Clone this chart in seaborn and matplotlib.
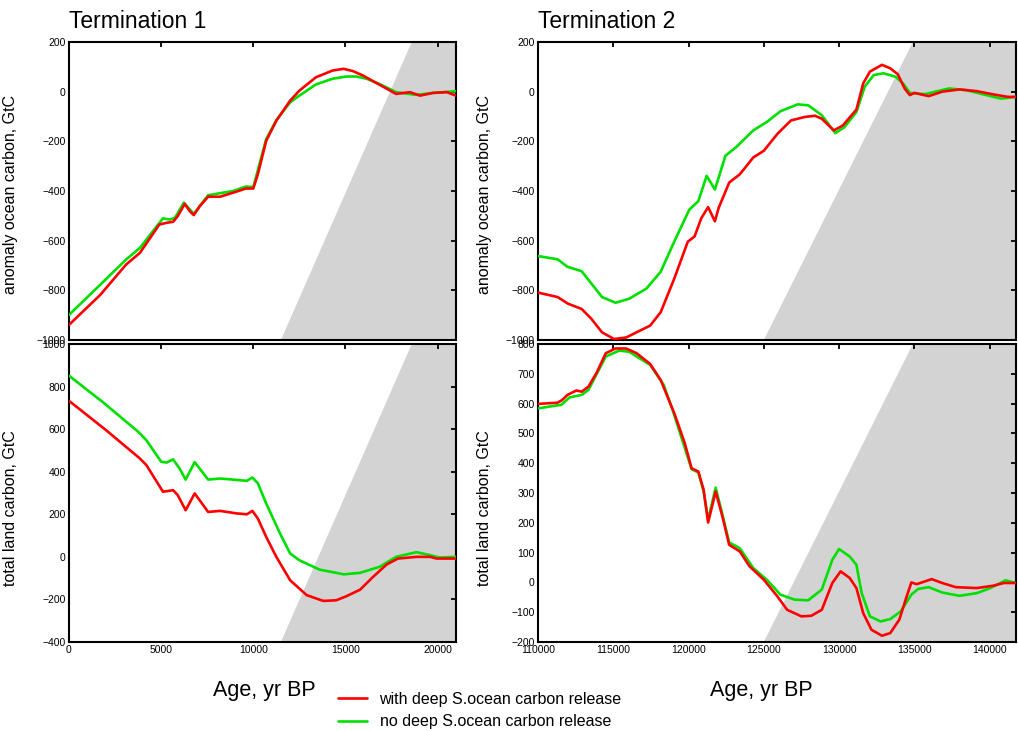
import numpy as np
import pandas as pd
import seaborn as sns
import matplotlib.pyplot as plt
import matplotlib.transforms as mtransforms

# ---------- data ----------
# Termination 1, anomaly ocean carbon (GtC)
t1_ocean_red_x = [0, 1700, 3100, 3850, 4900, 5300, 5650, 5900, 6280, 6550, 6770, 7100, 7550, 8200, 8900,
                  9600, 10000, 10250, 10700, 11250, 12000, 12500, 13400, 14300, 14900, 15400, 15950, 16700,
                  17750, 18500, 19050, 19750, 20500, 21000]
t1_ocean_red_y = [-939, -818, -696, -649, -535, -528, -524, -501, -452, -481, -497, -461, -423, -423, -407,
                  -390, -390, -332, -198, -117, -36, 4, 58, 85, 92, 83, 65, 34,
                  -9, -2, -16, -5, -2, -16]
t1_ocean_green_x = [0, 1700, 3100, 3850, 5100, 5450, 5750, 6230, 6550, 6770, 7550, 8900, 9600, 10000, 10700,
                    11250, 12000, 12500, 13400, 14300, 15050, 15600, 16150, 16850, 17750, 18850, 19750, 21000]
t1_ocean_green_y = [-899, -777, -676, -629, -510, -515, -508, -447, -474, -492, -417, -400, -382, -384, -191,
                    -115, -43, -16, 29, 52, 61, 61, 52, 31, -2, -13, -5, 2]

# Termination 1, total land carbon (GtC)
t1_land_red_x = [0, 2000, 3850, 4200, 5100, 5650, 5900, 6330, 6820, 7550, 8200, 9100, 9650, 9950, 10250,
                 10700, 11250, 12000, 12900, 13800, 14500, 15050, 15800, 16500, 17250, 17850, 18850, 19600,
                 19950, 21000]
t1_land_red_y = [733, 596, 462, 431, 306, 313, 290, 219, 298, 211, 216, 204, 200, 216, 180,
                 94, 0, -110, -180, -207, -204, -185, -154, -94, -35, -8, 0, 0,
                 -8, -8]
t1_land_green_x = [0, 1850, 3750, 4200, 5000, 5300, 5650, 6000, 6330, 6820, 7550, 8200, 8900, 9650, 9950,
                   10250, 10700, 11450, 12000, 12500, 13600, 14900, 15800, 16850, 17750, 18850, 19600, 20100,
                   21000]
t1_land_green_y = [851, 726, 588, 548, 447, 443, 458, 415, 363, 445, 363, 368, 363, 357, 373,
                   345, 251, 110, 16, -16, -60, -82, -75, -47, 0, 22, 8, -3,
                   0]

# Termination 2, anomaly ocean carbon (GtC)
t2_ocean_red_x = [110000, 111300, 112000, 112900, 113550, 114250, 115050, 115850, 116750, 117450, 118150,
                  119050, 119950, 120400, 120850, 121300, 121750, 122000, 122700, 123400, 124300, 125000,
                  125900, 126800, 127700, 128400, 128850, 129650, 130250, 131150, 131600, 132050, 132850,
                  133400, 133900, 134350, 134700, 135000, 135950, 136850, 138000, 139150, 140250, 141200,
                  141750]
t2_ocean_red_y = [-809, -827, -854, -875, -915, -969, -996, -990, -963, -942, -888,
                  -753, -604, -583, -509, -465, -522, -468, -366, -333, -265, -238,
                  -170, -116, -102, -97, -109, -156, -136, -72, 33, 81, 108,
                  94, 70, 13, -14, -5, -18, 0, 9, 2, -11, -21,
                  -21]
t2_ocean_green_x = [110000, 111300, 111950, 112900, 113550, 114250, 115150, 116050, 117200, 118150, 119050,
                    120050, 120650, 121200, 121750, 122000, 122450, 123150, 124300, 125200, 126100, 127250,
                    127950, 128850, 129750, 130350, 131150, 131700, 132300, 132950, 133750, 134250, 134700,
                    135700, 136400, 137300, 138450, 139800, 140750, 141750]
t2_ocean_green_y = [-662, -675, -705, -723, -773, -827, -850, -834, -793, -725, -604,
                    -475, -441, -339, -394, -346, -258, -224, -156, -122, -79, -51,
                    -55, -95, -167, -143, -82, 20, 67, 74, 60, 33, -5,
                    -10, 0, 13, 6, -14, -28, -21]

# Termination 2, total land carbon (GtC)
t2_land_red_x = [110000, 111300, 111600, 111950, 112550, 112900, 113350, 113900, 114500, 115150, 115850,
                 116550, 117450, 118150, 119050, 119750, 120200, 120650, 121000, 121300, 121800, 122250,
                 122700, 123400, 124050, 125000, 125900, 126550, 127500, 128150, 128850, 129550, 130100,
                 130700, 131150, 131600, 132150, 132850, 133400, 134000, 134450, 134800, 135150, 136150,
                 136850, 137750, 139150, 140250, 140950, 141750]
t2_land_red_y = [599, 603, 612, 629, 644, 640, 657, 704, 769, 785, 785,
                 769, 733, 679, 568, 467, 383, 372, 311, 201, 305, 221,
                 126, 104, 54, 9, -47, -92, -114, -112, -92, -2, 37,
                 15, -19, -103, -159, -179, -170, -125, -53, 0, -6, 11,
                 -2, -16, -19, -11, -2, -2]
t2_land_green_x = [110000, 111550, 112100, 112900, 113350, 114500, 115400, 116050, 117450, 118350, 119050,
                   120200, 120650, 121000, 121300, 121800, 122250, 122700, 123400, 124300, 125200, 126100,
                   127050, 127950, 128850, 129550, 130000, 130700, 131150, 131500, 132050, 132750, 133400,
                   134100, 134800, 135250, 135950, 136850, 138000, 139150, 140050, 141050, 141750]
t2_land_green_y = [584, 596, 621, 629, 646, 758, 778, 774, 730, 663, 562,
                   380, 369, 305, 210, 318, 227, 134, 115, 48, 9, -41,
                   -58, -60, -24, 76, 112, 87, 59, -36, -114, -131, -123,
                   -97, -41, -22, -16, -34, -45, -36, -19, 7, -2]

series_labels = ["with deep S.ocean carbon release", "no deep S.ocean carbon release"]
titles = ["Termination 1", "Termination 2"]

RED = "#ff0000"
GREEN = "#00e000"

sns.set_theme(style="white")
plt.rcParams["font.family"] = ["Liberation Sans", "DejaVu Sans"]
plt.rcParams["axes.edgecolor"] = "black"
plt.rcParams["axes.linewidth"] = 1.5
plt.rcParams["text.color"] = "black"
plt.rcParams["axes.labelcolor"] = "black"
plt.rcParams["xtick.color"] = "black"
plt.rcParams["ytick.color"] = "black"

fig = plt.figure(figsize=(10.18, 7.31), dpi=100)

W, H = 1018, 731
def rect(x0, y0, x1, y1):
    return [x0 / W, 1 - y1 / H, (x1 - x0) / W, (y1 - y0) / H]

ax_t1o = fig.add_axes(rect(69, 42, 456, 340))
ax_t1l = fig.add_axes(rect(69, 344, 456, 642))
ax_t2o = fig.add_axes(rect(538, 42, 1016, 340))
ax_t2l = fig.add_axes(rect(538, 344, 1016, 642))


def shade(ax, xb, xt, xmax):
    tr = mtransforms.blended_transform_factory(ax.transData, ax.transAxes)
    ax.fill([xb, xt, xmax, xmax], [0, 1, 1, 0], color="#d3d3d3", lw=0, zorder=0, transform=tr)


def draw(ax, rx, ry, gx, gy):
    df_g = pd.DataFrame({"x": gx, "y": gy})
    df_r = pd.DataFrame({"x": rx, "y": ry})
    sns.lineplot(data=df_g, x="x", y="y", ax=ax, color=GREEN, lw=1.9, estimator=None, sort=False,
                 label=series_labels[1], zorder=3)
    sns.lineplot(data=df_r, x="x", y="y", ax=ax, color=RED, lw=1.9, estimator=None, sort=False,
                 label=series_labels[0], zorder=4)
    ax.get_legend().remove()
    ax.set_xlabel("")
    ax.set_ylabel("")
    ax.tick_params(direction="in", length=3.5, width=1.3, top=True, right=True,
                   labelsize=7.5, pad=2.5, colors="black")


draw(ax_t1o, t1_ocean_red_x, t1_ocean_red_y, t1_ocean_green_x, t1_ocean_green_y)
draw(ax_t1l, t1_land_red_x, t1_land_red_y, t1_land_green_x, t1_land_green_y)
draw(ax_t2o, t2_ocean_red_x, t2_ocean_red_y, t2_ocean_green_x, t2_ocean_green_y)
draw(ax_t2l, t2_land_red_x, t2_land_red_y, t2_land_green_x, t2_land_green_y)

# limits and ticks
for ax in (ax_t1o, ax_t1l):
    ax.set_xlim(0, 21000)
    ax.set_xticks(np.arange(0, 21000, 5000))
    shade(ax, 11500, 18600, 21000)
for ax in (ax_t2o, ax_t2l):
    ax.set_xlim(110000, 141750)
    ax.set_xticks(np.arange(110000, 141000, 5000))
    shade(ax, 125000, 134900, 141750)

ax_t1o.set_ylim(-1000, 200)
ax_t1o.set_yticks(np.arange(-1000, 201, 200))
ax_t2o.set_ylim(-1000, 200)
ax_t2o.set_yticks(np.arange(-1000, 201, 200))
ax_t1l.set_ylim(-400, 1000)
ax_t1l.set_yticks(np.arange(-400, 1001, 200))
ax_t2l.set_ylim(-200, 800)
ax_t2l.set_yticks(np.arange(-200, 801, 100))

for ax in (ax_t1o, ax_t2o):
    ax.tick_params(labelbottom=False)

# labels
ax_t1o.set_ylabel("anomaly ocean carbon, GtC", fontsize=11.5)
ax_t1o.yaxis.set_label_coords(-0.133, 0.49)
ax_t2o.set_ylabel("anomaly ocean carbon, GtC", fontsize=11.5)
ax_t2o.yaxis.set_label_coords(-0.097, 0.49)
ax_t1l.set_ylabel("total land carbon, GtC", fontsize=11.5)
ax_t1l.yaxis.set_label_coords(-0.133, 0.45)
ax_t2l.set_ylabel("total land carbon, GtC", fontsize=11.5)
ax_t2l.yaxis.set_label_coords(-0.097, 0.45)

ax_t1l.set_xlabel("Age, yr BP", fontsize=15.5)
ax_t1l.xaxis.set_label_coords(0.505, -0.128)
ax_t2l.set_xlabel("Age, yr BP", fontsize=15.5)
ax_t2l.xaxis.set_label_coords(0.468, -0.128)

ax_t1o.set_title(titles[0], loc="left", fontsize=16.5, pad=10)
ax_t2o.set_title(titles[1], loc="left", fontsize=16.5, pad=10)

# legend
h, l = ax_t1o.get_legend_handles_labels()
order = [l.index(series_labels[0]), l.index(series_labels[1])]
fig.legend([h[i] for i in order], [l[i] for i in order], loc="upper left",
           bbox_to_anchor=(338 / W, 1 - 692 / H), frameon=False, fontsize=11.5,
           handlelength=1.8, handletextpad=0.8, labelspacing=0.45, borderpad=0, borderaxespad=0)

fig.savefig("out.png", dpi=100)
